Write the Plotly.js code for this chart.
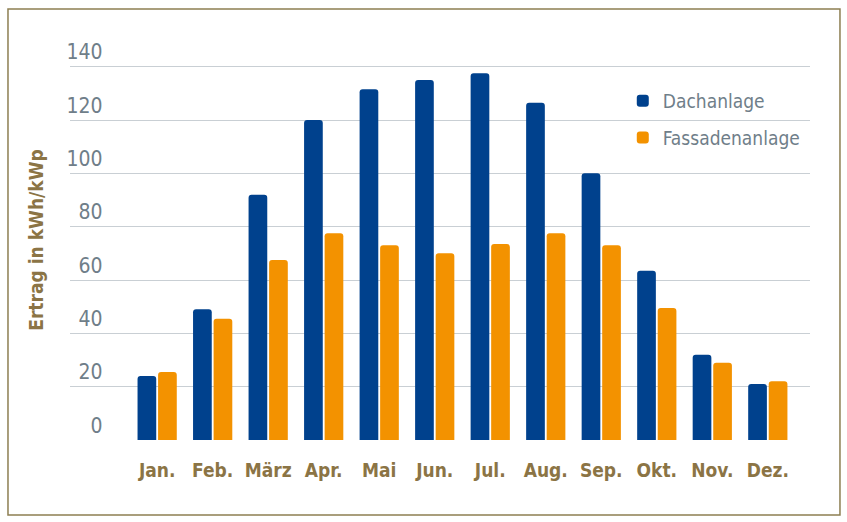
<!DOCTYPE html>
<html>
<head>
<meta charset="utf-8">
<script src="https://cdn.plot.ly/plotly-3.0.1.min.js"></script>
<style>
  html, body { margin: 0; padding: 0; background: #ffffff; }
  #chart { width: 847px; height: 522px; }
</style>
</head>
<body>
<div id="chart"></div>
<script>
const months = ["Jan.", "Feb.", "März", "Apr.", "Mai", "Jun.", "Jul.", "Aug.", "Sep.", "Okt.", "Nov.", "Dez."];
const dachanlage = [24, 49, 92, 120, 131.5, 135, 137.5, 126.5, 100, 63.5, 32, 21];
const fassadenanlage = [25.5, 45.5, 67.5, 77.5, 73, 70, 73.5, 77.5, 73, 49.5, 29, 22];
const yTickVals = [0, 20, 40, 60, 80, 100, 120, 140];
const yTickText = ["0", "20", "40", "60", "80", "100", "120", "140"];

const FONT = "'Liberation Sans Narrow', 'DejaVu Sans Condensed', 'Arial Narrow', sans-serif";
const BROWN = "#8b7445";
const GREY = "#6f7e89";

const traces = [
  {
    type: "bar", name: "Dachanlage", x: months, y: dachanlage,
    marker: { color: "#00418d" }, legendgroup: "a", hoverinfo: "x+y+name"
  },
  {
    type: "bar", name: "Fassadenanlage", x: months, y: fassadenanlage,
    marker: { color: "#f39200" }, legendgroup: "b", hoverinfo: "x+y+name"
  },
  {
    // carrier trace so the label axis (yaxis2) is drawn; draws nothing
    type: "scatter", mode: "none", x: months, y: dachanlage, yaxis: "y2",
    showlegend: false, hoverinfo: "skip"
  }
];

const layout = {
  width: 847, height: 522,
  margin: { l: 70, r: 37, t: 40, b: 82 },
  paper_bgcolor: "#ffffff", plot_bgcolor: "#ffffff",
  font: { family: FONT, color: GREY },
  barmode: "group", bargap: 0.26, bargroupgap: 0.09, barcornerradius: 3,
  showlegend: true,
  legend: {
    x: 0.747, y: 0.895, xanchor: "left", yanchor: "top",
    font: { family: FONT, size: 19, color: GREY },
    bgcolor: "rgba(0,0,0,0)", traceorder: "grouped", tracegroupgap: 9
  },
  xaxis: {
    type: "category", range: [-1.57, 11.76],
    showgrid: false, zeroline: false, showline: false, ticks: "",
    tickfont: { family: FONT, size: 19, color: BROWN, weight: "bold" },
    ticklabelstandoff: 17, fixedrange: true
  },
  yaxis: {
    range: [0, 150], tickvals: yTickVals, showticklabels: false,
    showgrid: true, gridcolor: "#c9cfd4", gridwidth: 1,
    zeroline: false, showline: false, ticks: "", fixedrange: true
  },
  yaxis2: {
    overlaying: "y", anchor: "free", position: 0.044, side: "left",
    range: [0, 150], tickvals: yTickVals, ticktext: yTickText,
    ticklabelposition: "outside top",
    tickfont: { family: FONT, size: 21, color: GREY },
    showgrid: false, zeroline: false, showline: false, ticks: "",
    title: {
      text: "Ertrag in kWh/kWp", standoff: 16,
      font: { family: FONT, size: 19, color: BROWN, weight: "bold" }
    },
    fixedrange: true
  },
  shapes: [
    {
      type: "rect", xref: "paper", yref: "paper",
      x0: -0.0838, x1: 1.0405, y0: -0.1875, y1: 1.0775,
      line: { color: "#8d7f52", width: 1.5 }, fillcolor: "rgba(0,0,0,0)", layer: "below"
    }
  ]
};

Plotly.newPlot("chart", traces, layout, { displayModeBar: false, staticPlot: true });
</script>
</body>
</html>
